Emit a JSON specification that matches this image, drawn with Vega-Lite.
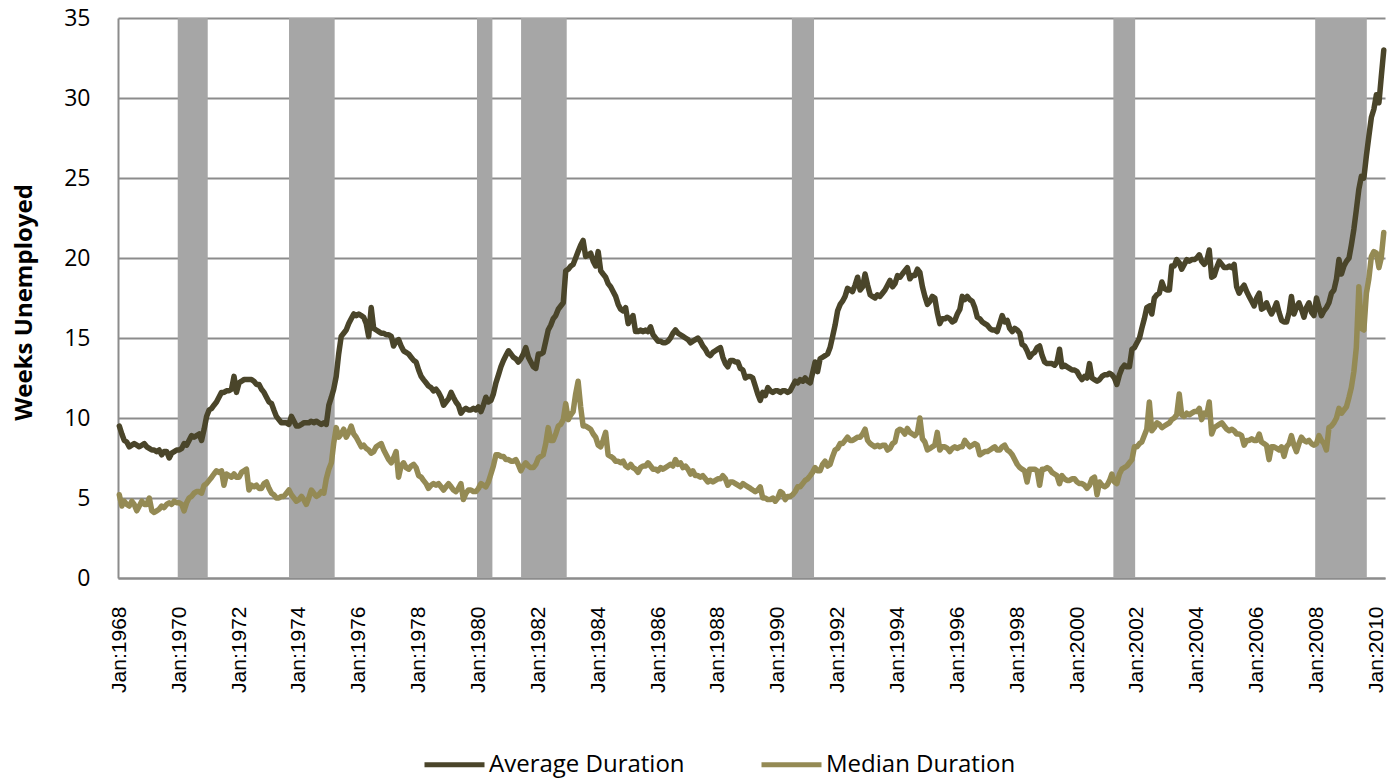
{
"$schema":"https://vega.github.io/schema/vega-lite/v6.json",
"width":1267,"height":560,
"autosize":{"type":"none"},
"padding":{"left":118,"top":18,"right":13,"bottom":202},
"background":"white",
"config":{"view":{"stroke":null}},
"encoding":{"x":{"field":"t","type":"temporal",
 "scale":{"type":"utc","domain":[{"year":1967,"month":12,"date":16,"utc":true},{"year":2010,"month":4,"date":16,"utc":true}]},
 "axis":{"title":null,"tickCount":{"interval":"year","step":2},"labelExpr":"'Jan:' + utcFormat(datum.value,'%Y')","labelAngle":-90,"labelFont":"Liberation Sans","labelFontSize":21,"labelColor":"#000000","labelPadding":28,"labelFlush":false,"labelOverlap":false,"ticks":false,"grid":false,"domainColor":"#8c8c8c","domainWidth":2}}},
"layer":[
{"data":{"values":[
{"t":"1969-12-14","t2":"1970-12-15"},
{"t":"1973-09-02","t2":"1975-03-13"},
{"t":"1979-12-14","t2":"1980-06-19"},
{"t":"1981-06-04","t2":"1982-12-13"},
{"t":"1990-06-22","t2":"1991-03-19"},
{"t":"2001-03-19","t2":"2001-12-10"},
{"t":"2007-12-16","t2":"2009-09-06"}],
"format":{"parse":{"t":"utc:'%Y-%m-%d'","t2":"utc:'%Y-%m-%d'"}}},
"mark":{"type":"rect","color":"#A6A6A6"},
"encoding":{"x2":{"field":"t2"}}},
{"data":{"format":{"parse":{"t":"utc:'%Y-%m'"}},"values":[
{"t":"1968-01","a":9.5,"m":5.2},{"t":"1968-02","a":9.0,"m":4.5},{"t":"1968-03","a":8.6,"m":4.8},{"t":"1968-04","a":8.5,"m":4.6},{"t":"1968-05","a":8.2,"m":4.5},{"t":"1968-06","a":8.3,"m":4.8},{"t":"1968-07","a":8.4,"m":4.6},{"t":"1968-08","a":8.3,"m":4.2},{"t":"1968-09","a":8.2,"m":4.5},{"t":"1968-10","a":8.3,"m":4.8},{"t":"1968-11","a":8.4,"m":4.6},{"t":"1968-12","a":8.2,"m":4.6},
{"t":"1969-01","a":8.1,"m":5.0},{"t":"1969-02","a":8.0,"m":4.2},{"t":"1969-03","a":8.0,"m":4.1},{"t":"1969-04","a":7.9,"m":4.2},{"t":"1969-05","a":8.0,"m":4.3},{"t":"1969-06","a":7.7,"m":4.5},{"t":"1969-07","a":7.9,"m":4.4},{"t":"1969-08","a":7.9,"m":4.6},{"t":"1969-09","a":7.5,"m":4.7},{"t":"1969-10","a":7.8,"m":4.6},{"t":"1969-11","a":7.9,"m":4.8},{"t":"1969-12","a":8.0,"m":4.7},
{"t":"1970-01","a":8.0,"m":4.7},{"t":"1970-02","a":8.1,"m":4.6},{"t":"1970-03","a":8.4,"m":4.2},{"t":"1970-04","a":8.3,"m":4.7},{"t":"1970-05","a":8.6,"m":5.0},{"t":"1970-06","a":8.9,"m":5.1},{"t":"1970-07","a":8.8,"m":5.3},{"t":"1970-08","a":8.9,"m":5.4},{"t":"1970-09","a":9.0,"m":5.4},{"t":"1970-10","a":8.6,"m":5.3},{"t":"1970-11","a":9.3,"m":5.8},{"t":"1970-12","a":10.1,"m":5.9},
{"t":"1971-01","a":10.5,"m":6.1},{"t":"1971-02","a":10.6,"m":6.3},{"t":"1971-03","a":10.8,"m":6.5},{"t":"1971-04","a":11.0,"m":6.7},{"t":"1971-05","a":11.3,"m":6.6},{"t":"1971-06","a":11.6,"m":6.7},{"t":"1971-07","a":11.6,"m":5.8},{"t":"1971-08","a":11.7,"m":6.5},{"t":"1971-09","a":11.7,"m":6.4},{"t":"1971-10","a":11.8,"m":6.3},{"t":"1971-11","a":12.6,"m":6.5},{"t":"1971-12","a":11.6,"m":6.3},
{"t":"1972-01","a":12.2,"m":6.3},{"t":"1972-02","a":12.3,"m":6.6},{"t":"1972-03","a":12.4,"m":6.7},{"t":"1972-04","a":12.4,"m":6.8},{"t":"1972-05","a":12.4,"m":5.5},{"t":"1972-06","a":12.4,"m":5.8},{"t":"1972-07","a":12.3,"m":5.7},{"t":"1972-08","a":12.1,"m":5.8},{"t":"1972-09","a":12.1,"m":5.6},{"t":"1972-10","a":11.8,"m":5.6},{"t":"1972-11","a":11.6,"m":5.9},{"t":"1972-12","a":11.3,"m":6.0},
{"t":"1973-01","a":11.0,"m":5.6},{"t":"1973-02","a":10.9,"m":5.3},{"t":"1973-03","a":10.5,"m":5.2},{"t":"1973-04","a":10.1,"m":5.0},{"t":"1973-05","a":9.9,"m":5.0},{"t":"1973-06","a":9.7,"m":5.1},{"t":"1973-07","a":9.7,"m":5.1},{"t":"1973-08","a":9.7,"m":5.3},{"t":"1973-09","a":9.6,"m":5.5},{"t":"1973-10","a":10.1,"m":5.2},{"t":"1973-11","a":9.8,"m":5.0},{"t":"1973-12","a":9.5,"m":4.8},
{"t":"1974-01","a":9.5,"m":4.9},{"t":"1974-02","a":9.6,"m":5.1},{"t":"1974-03","a":9.7,"m":4.9},{"t":"1974-04","a":9.7,"m":4.6},{"t":"1974-05","a":9.7,"m":5.0},{"t":"1974-06","a":9.8,"m":5.5},{"t":"1974-07","a":9.7,"m":5.3},{"t":"1974-08","a":9.8,"m":5.1},{"t":"1974-09","a":9.7,"m":5.2},{"t":"1974-10","a":9.6,"m":5.4},{"t":"1974-11","a":9.7,"m":5.3},{"t":"1974-12","a":9.6,"m":6.2},
{"t":"1975-01","a":10.8,"m":6.8},{"t":"1975-02","a":11.3,"m":7.2},{"t":"1975-03","a":11.8,"m":8.4},{"t":"1975-04","a":12.6,"m":9.4},{"t":"1975-05","a":14.0,"m":8.8},{"t":"1975-06","a":15.1,"m":9.0},{"t":"1975-07","a":15.3,"m":9.3},{"t":"1975-08","a":15.5,"m":8.8},{"t":"1975-09","a":15.9,"m":9.1},{"t":"1975-10","a":16.2,"m":9.5},{"t":"1975-11","a":16.5,"m":9.0},{"t":"1975-12","a":16.4,"m":8.8},
{"t":"1976-01","a":16.5,"m":8.5},{"t":"1976-02","a":16.4,"m":8.2},{"t":"1976-03","a":16.3,"m":8.3},{"t":"1976-04","a":15.9,"m":8.1},{"t":"1976-05","a":15.1,"m":8.0},{"t":"1976-06","a":16.9,"m":7.8},{"t":"1976-07","a":15.6,"m":7.9},{"t":"1976-08","a":15.5,"m":8.2},{"t":"1976-09","a":15.4,"m":8.3},{"t":"1976-10","a":15.3,"m":8.4},{"t":"1976-11","a":15.3,"m":8.0},{"t":"1976-12","a":15.2,"m":7.7},
{"t":"1977-01","a":15.2,"m":7.4},{"t":"1977-02","a":15.1,"m":7.2},{"t":"1977-03","a":14.5,"m":7.5},{"t":"1977-04","a":14.8,"m":7.9},{"t":"1977-05","a":14.9,"m":6.3},{"t":"1977-06","a":14.5,"m":7.0},{"t":"1977-07","a":14.2,"m":7.2},{"t":"1977-08","a":14.1,"m":6.9},{"t":"1977-09","a":14.0,"m":6.8},{"t":"1977-10","a":13.8,"m":7.0},{"t":"1977-11","a":13.6,"m":7.1},{"t":"1977-12","a":13.5,"m":6.9},
{"t":"1978-01","a":13.0,"m":6.4},{"t":"1978-02","a":12.6,"m":6.3},{"t":"1978-03","a":12.4,"m":6.1},{"t":"1978-04","a":12.2,"m":5.9},{"t":"1978-05","a":12.0,"m":5.6},{"t":"1978-06","a":11.9,"m":5.8},{"t":"1978-07","a":11.7,"m":5.9},{"t":"1978-08","a":11.8,"m":5.8},{"t":"1978-09","a":11.6,"m":5.9},{"t":"1978-10","a":11.3,"m":5.7},{"t":"1978-11","a":10.8,"m":5.5},{"t":"1978-12","a":11.0,"m":5.7},
{"t":"1979-01","a":11.2,"m":5.9},{"t":"1979-02","a":11.6,"m":5.7},{"t":"1979-03","a":11.3,"m":5.5},{"t":"1979-04","a":11.0,"m":5.4},{"t":"1979-05","a":10.8,"m":5.6},{"t":"1979-06","a":10.3,"m":5.9},{"t":"1979-07","a":10.5,"m":4.9},{"t":"1979-08","a":10.6,"m":5.3},{"t":"1979-09","a":10.5,"m":5.5},{"t":"1979-10","a":10.5,"m":5.5},{"t":"1979-11","a":10.6,"m":5.4},{"t":"1979-12","a":10.5,"m":5.4},
{"t":"1980-01","a":10.7,"m":5.6},{"t":"1980-02","a":10.4,"m":5.9},{"t":"1980-03","a":10.8,"m":5.8},{"t":"1980-04","a":11.3,"m":5.7},{"t":"1980-05","a":11.0,"m":6.0},{"t":"1980-06","a":11.1,"m":6.5},{"t":"1980-07","a":11.5,"m":7.0},{"t":"1980-08","a":12.2,"m":7.7},{"t":"1980-09","a":12.7,"m":7.7},{"t":"1980-10","a":13.2,"m":7.6},{"t":"1980-11","a":13.6,"m":7.6},{"t":"1980-12","a":13.9,"m":7.4},
{"t":"1981-01","a":14.2,"m":7.4},{"t":"1981-02","a":14.0,"m":7.3},{"t":"1981-03","a":13.8,"m":7.3},{"t":"1981-04","a":13.7,"m":7.4},{"t":"1981-05","a":13.5,"m":7.1},{"t":"1981-06","a":13.7,"m":6.7},{"t":"1981-07","a":14.0,"m":7.0},{"t":"1981-08","a":14.4,"m":7.2},{"t":"1981-09","a":13.8,"m":7.0},{"t":"1981-10","a":13.5,"m":6.9},{"t":"1981-11","a":13.2,"m":6.9},{"t":"1981-12","a":13.1,"m":7.1},
{"t":"1982-01","a":14.0,"m":7.5},{"t":"1982-02","a":14.0,"m":7.6},{"t":"1982-03","a":14.1,"m":7.7},{"t":"1982-04","a":14.8,"m":8.4},{"t":"1982-05","a":15.5,"m":9.4},{"t":"1982-06","a":15.8,"m":8.6},{"t":"1982-07","a":16.2,"m":8.6},{"t":"1982-08","a":16.4,"m":9.0},{"t":"1982-09","a":16.8,"m":9.5},{"t":"1982-10","a":17.0,"m":9.6},{"t":"1982-11","a":17.2,"m":9.9},{"t":"1982-12","a":19.2,"m":10.9},
{"t":"1983-01","a":19.3,"m":9.9},{"t":"1983-02","a":19.5,"m":10.2},{"t":"1983-03","a":19.6,"m":10.4},{"t":"1983-04","a":20.0,"m":11.5},{"t":"1983-05","a":20.4,"m":12.3},{"t":"1983-06","a":20.8,"m":10.7},{"t":"1983-07","a":21.1,"m":9.5},{"t":"1983-08","a":20.1,"m":9.5},{"t":"1983-09","a":20.2,"m":9.4},{"t":"1983-10","a":20.3,"m":9.3},{"t":"1983-11","a":19.8,"m":9.0},{"t":"1983-12","a":19.5,"m":8.8},
{"t":"1984-01","a":20.4,"m":8.3},{"t":"1984-02","a":19.2,"m":8.2},{"t":"1984-03","a":19.0,"m":8.6},{"t":"1984-04","a":18.8,"m":9.1},{"t":"1984-05","a":18.4,"m":7.7},{"t":"1984-06","a":18.2,"m":7.6},{"t":"1984-07","a":17.9,"m":7.5},{"t":"1984-08","a":17.6,"m":7.3},{"t":"1984-09","a":17.1,"m":7.3},{"t":"1984-10","a":16.8,"m":7.2},{"t":"1984-11","a":16.7,"m":7.3},{"t":"1984-12","a":16.9,"m":7.0},
{"t":"1985-01","a":15.9,"m":6.9},{"t":"1985-02","a":16.2,"m":7.1},{"t":"1985-03","a":16.4,"m":6.9},{"t":"1985-04","a":15.4,"m":6.8},{"t":"1985-05","a":15.4,"m":6.6},{"t":"1985-06","a":15.5,"m":6.9},{"t":"1985-07","a":15.4,"m":7.0},{"t":"1985-08","a":15.5,"m":7.0},{"t":"1985-09","a":15.4,"m":7.2},{"t":"1985-10","a":15.7,"m":7.0},{"t":"1985-11","a":15.2,"m":6.8},{"t":"1985-12","a":15.0,"m":6.8},
{"t":"1986-01","a":14.8,"m":6.7},{"t":"1986-02","a":14.8,"m":6.9},{"t":"1986-03","a":14.7,"m":6.8},{"t":"1986-04","a":14.7,"m":6.9},{"t":"1986-05","a":14.8,"m":7.0},{"t":"1986-06","a":15.0,"m":7.1},{"t":"1986-07","a":15.3,"m":7.0},{"t":"1986-08","a":15.5,"m":7.4},{"t":"1986-09","a":15.3,"m":7.1},{"t":"1986-10","a":15.2,"m":7.2},{"t":"1986-11","a":15.1,"m":6.9},{"t":"1986-12","a":15.0,"m":7.0},
{"t":"1987-01","a":14.9,"m":6.8},{"t":"1987-02","a":14.7,"m":6.5},{"t":"1987-03","a":14.8,"m":6.7},{"t":"1987-04","a":14.9,"m":6.4},{"t":"1987-05","a":15.0,"m":6.4},{"t":"1987-06","a":14.8,"m":6.3},{"t":"1987-07","a":14.5,"m":6.4},{"t":"1987-08","a":14.3,"m":6.2},{"t":"1987-09","a":14.0,"m":6.0},{"t":"1987-10","a":13.9,"m":6.1},{"t":"1987-11","a":14.1,"m":6.0},{"t":"1987-12","a":14.2,"m":6.1},
{"t":"1988-01","a":14.3,"m":6.2},{"t":"1988-02","a":14.4,"m":6.2},{"t":"1988-03","a":13.8,"m":6.4},{"t":"1988-04","a":13.4,"m":6.2},{"t":"1988-05","a":13.2,"m":5.8},{"t":"1988-06","a":13.6,"m":6.0},{"t":"1988-07","a":13.6,"m":6.0},{"t":"1988-08","a":13.5,"m":5.9},{"t":"1988-09","a":13.5,"m":5.8},{"t":"1988-10","a":13.1,"m":5.7},{"t":"1988-11","a":13.0,"m":5.9},{"t":"1988-12","a":12.5,"m":5.8},
{"t":"1989-01","a":12.6,"m":5.7},{"t":"1989-02","a":12.6,"m":5.6},{"t":"1989-03","a":12.5,"m":5.5},{"t":"1989-04","a":12.0,"m":5.4},{"t":"1989-05","a":11.5,"m":5.5},{"t":"1989-06","a":11.1,"m":5.7},{"t":"1989-07","a":11.6,"m":5.0},{"t":"1989-08","a":11.4,"m":5.0},{"t":"1989-09","a":11.9,"m":4.9},{"t":"1989-10","a":11.7,"m":4.9},{"t":"1989-11","a":11.6,"m":5.0},{"t":"1989-12","a":11.7,"m":4.8},
{"t":"1990-01","a":11.7,"m":5.0},{"t":"1990-02","a":11.6,"m":5.4},{"t":"1990-03","a":11.7,"m":5.3},{"t":"1990-04","a":11.7,"m":4.9},{"t":"1990-05","a":11.6,"m":5.1},{"t":"1990-06","a":11.7,"m":5.1},{"t":"1990-07","a":12.0,"m":5.2},{"t":"1990-08","a":12.3,"m":5.4},{"t":"1990-09","a":12.2,"m":5.7},{"t":"1990-10","a":12.4,"m":5.7},{"t":"1990-11","a":12.3,"m":5.9},{"t":"1990-12","a":12.5,"m":6.1},
{"t":"1991-01","a":12.3,"m":6.2},{"t":"1991-02","a":12.2,"m":6.4},{"t":"1991-03","a":12.8,"m":6.6},{"t":"1991-04","a":13.5,"m":6.9},{"t":"1991-05","a":12.9,"m":6.7},{"t":"1991-06","a":13.7,"m":6.7},{"t":"1991-07","a":13.8,"m":7.1},{"t":"1991-08","a":13.9,"m":7.3},{"t":"1991-09","a":14.0,"m":7.0},{"t":"1991-10","a":14.4,"m":7.1},{"t":"1991-11","a":15.1,"m":7.6},{"t":"1991-12","a":15.8,"m":8.0},
{"t":"1992-01","a":16.7,"m":8.1},{"t":"1992-02","a":17.1,"m":8.4},{"t":"1992-03","a":17.3,"m":8.4},{"t":"1992-04","a":17.6,"m":8.6},{"t":"1992-05","a":18.1,"m":8.8},{"t":"1992-06","a":18.0,"m":8.6},{"t":"1992-07","a":17.9,"m":8.6},{"t":"1992-08","a":18.3,"m":8.7},{"t":"1992-09","a":18.8,"m":8.8},{"t":"1992-10","a":18.0,"m":8.8},{"t":"1992-11","a":18.2,"m":9.0},{"t":"1992-12","a":19.0,"m":9.3},
{"t":"1993-01","a":18.3,"m":8.6},{"t":"1993-02","a":17.7,"m":8.4},{"t":"1993-03","a":17.6,"m":8.3},{"t":"1993-04","a":17.5,"m":8.2},{"t":"1993-05","a":17.7,"m":8.3},{"t":"1993-06","a":17.6,"m":8.2},{"t":"1993-07","a":17.8,"m":8.3},{"t":"1993-08","a":18.0,"m":8.3},{"t":"1993-09","a":18.3,"m":8.0},{"t":"1993-10","a":18.6,"m":8.1},{"t":"1993-11","a":18.2,"m":8.4},{"t":"1993-12","a":18.4,"m":8.5},
{"t":"1994-01","a":18.9,"m":9.2},{"t":"1994-02","a":18.8,"m":9.3},{"t":"1994-03","a":19.0,"m":9.2},{"t":"1994-04","a":19.2,"m":9.0},{"t":"1994-05","a":19.4,"m":9.35},{"t":"1994-06","a":18.7,"m":9.1},{"t":"1994-07","a":18.9,"m":9.0},{"t":"1994-08","a":18.9,"m":8.9},{"t":"1994-09","a":19.3,"m":9.1},{"t":"1994-10","a":19.1,"m":10.0},{"t":"1994-11","a":18.2,"m":8.7},{"t":"1994-12","a":17.6,"m":8.5},
{"t":"1995-01","a":17.1,"m":8.0},{"t":"1995-02","a":17.3,"m":8.1},{"t":"1995-03","a":17.6,"m":8.2},{"t":"1995-04","a":17.5,"m":8.3},{"t":"1995-05","a":16.6,"m":9.1},{"t":"1995-06","a":15.9,"m":8.0},{"t":"1995-07","a":16.2,"m":8.2},{"t":"1995-08","a":16.2,"m":8.2},{"t":"1995-09","a":16.3,"m":8.1},{"t":"1995-10","a":16.2,"m":7.9},{"t":"1995-11","a":16.0,"m":8.1},{"t":"1995-12","a":16.1,"m":8.2},
{"t":"1996-01","a":16.5,"m":8.1},{"t":"1996-02","a":16.8,"m":8.2},{"t":"1996-03","a":17.6,"m":8.2},{"t":"1996-04","a":17.4,"m":8.6},{"t":"1996-05","a":17.6,"m":8.4},{"t":"1996-06","a":17.4,"m":8.2},{"t":"1996-07","a":17.3,"m":8.3},{"t":"1996-08","a":16.9,"m":8.4},{"t":"1996-09","a":16.3,"m":8.3},{"t":"1996-10","a":16.2,"m":7.7},{"t":"1996-11","a":16.0,"m":7.8},{"t":"1996-12","a":15.9,"m":7.9},
{"t":"1997-01","a":15.8,"m":7.9},{"t":"1997-02","a":15.6,"m":8.0},{"t":"1997-03","a":15.5,"m":8.1},{"t":"1997-04","a":15.5,"m":8.2},{"t":"1997-05","a":15.4,"m":8.0},{"t":"1997-06","a":15.9,"m":8.0},{"t":"1997-07","a":16.4,"m":8.2},{"t":"1997-08","a":16.0,"m":8.3},{"t":"1997-09","a":16.1,"m":8.0},{"t":"1997-10","a":15.6,"m":7.9},{"t":"1997-11","a":15.4,"m":7.7},{"t":"1997-12","a":15.6,"m":7.4},
{"t":"1998-01","a":15.5,"m":7.1},{"t":"1998-02","a":15.3,"m":6.9},{"t":"1998-03","a":14.6,"m":6.8},{"t":"1998-04","a":14.5,"m":6.7},{"t":"1998-05","a":14.2,"m":6.0},{"t":"1998-06","a":13.8,"m":6.8},{"t":"1998-07","a":14.0,"m":6.8},{"t":"1998-08","a":14.1,"m":6.8},{"t":"1998-09","a":14.4,"m":6.7},{"t":"1998-10","a":14.5,"m":5.8},{"t":"1998-11","a":13.9,"m":6.8},{"t":"1998-12","a":13.5,"m":6.8},
{"t":"1999-01","a":13.4,"m":6.9},{"t":"1999-02","a":13.4,"m":6.8},{"t":"1999-03","a":13.4,"m":6.6},{"t":"1999-04","a":13.3,"m":6.5},{"t":"1999-05","a":13.5,"m":6.4},{"t":"1999-06","a":14.3,"m":5.9},{"t":"1999-07","a":13.2,"m":6.4},{"t":"1999-08","a":13.3,"m":6.2},{"t":"1999-09","a":13.2,"m":6.1},{"t":"1999-10","a":13.1,"m":6.1},{"t":"1999-11","a":13.0,"m":6.2},{"t":"1999-12","a":13.0,"m":6.2},
{"t":"2000-01","a":12.9,"m":6.0},{"t":"2000-02","a":12.6,"m":5.9},{"t":"2000-03","a":12.4,"m":5.9},{"t":"2000-04","a":12.6,"m":5.8},{"t":"2000-05","a":12.5,"m":5.6},{"t":"2000-06","a":13.4,"m":5.8},{"t":"2000-07","a":12.5,"m":6.2},{"t":"2000-08","a":12.4,"m":6.3},{"t":"2000-09","a":12.3,"m":5.2},{"t":"2000-10","a":12.4,"m":6.0},{"t":"2000-11","a":12.6,"m":5.8},{"t":"2000-12","a":12.7,"m":5.7},
{"t":"2001-01","a":12.7,"m":5.8},{"t":"2001-02","a":12.8,"m":6.1},{"t":"2001-03","a":12.7,"m":6.5},{"t":"2001-04","a":12.5,"m":6.0},{"t":"2001-05","a":12.1,"m":5.9},{"t":"2001-06","a":12.7,"m":6.5},{"t":"2001-07","a":13.1,"m":6.8},{"t":"2001-08","a":13.3,"m":6.9},{"t":"2001-09","a":13.2,"m":7.0},{"t":"2001-10","a":13.2,"m":7.2},{"t":"2001-11","a":14.3,"m":7.4},{"t":"2001-12","a":14.4,"m":8.2},
{"t":"2002-01","a":14.7,"m":8.2},{"t":"2002-02","a":15.0,"m":8.4},{"t":"2002-03","a":15.6,"m":8.5},{"t":"2002-04","a":16.2,"m":8.9},{"t":"2002-05","a":16.9,"m":9.3},{"t":"2002-06","a":17.0,"m":11.0},{"t":"2002-07","a":16.5,"m":9.2},{"t":"2002-08","a":17.5,"m":9.4},{"t":"2002-09","a":17.7,"m":9.7},{"t":"2002-10","a":17.8,"m":9.6},{"t":"2002-11","a":18.5,"m":9.4},{"t":"2002-12","a":18.1,"m":9.5},
{"t":"2003-01","a":18.0,"m":9.6},{"t":"2003-02","a":18.0,"m":9.7},{"t":"2003-03","a":19.5,"m":9.9},{"t":"2003-04","a":19.5,"m":10.0},{"t":"2003-05","a":19.9,"m":10.2},{"t":"2003-06","a":19.7,"m":11.5},{"t":"2003-07","a":19.3,"m":10.2},{"t":"2003-08","a":19.6,"m":10.1},{"t":"2003-09","a":19.9,"m":10.3},{"t":"2003-10","a":19.8,"m":10.2},{"t":"2003-11","a":19.9,"m":10.3},{"t":"2003-12","a":19.9,"m":10.4},
{"t":"2004-01","a":20.0,"m":10.4},{"t":"2004-02","a":20.2,"m":10.6},{"t":"2004-03","a":19.8,"m":9.9},{"t":"2004-04","a":19.6,"m":10.3},{"t":"2004-05","a":19.8,"m":10.2},{"t":"2004-06","a":20.5,"m":11.0},{"t":"2004-07","a":18.8,"m":9.0},{"t":"2004-08","a":18.9,"m":9.4},{"t":"2004-09","a":19.4,"m":9.5},{"t":"2004-10","a":19.8,"m":9.6},{"t":"2004-11","a":19.6,"m":9.7},{"t":"2004-12","a":19.4,"m":9.5},
{"t":"2005-01","a":19.4,"m":9.3},{"t":"2005-02","a":19.5,"m":9.2},{"t":"2005-03","a":19.4,"m":9.3},{"t":"2005-04","a":19.6,"m":9.2},{"t":"2005-05","a":18.2,"m":9.0},{"t":"2005-06","a":17.8,"m":9.0},{"t":"2005-07","a":18.1,"m":8.9},{"t":"2005-08","a":18.3,"m":8.3},{"t":"2005-09","a":17.9,"m":8.6},{"t":"2005-10","a":17.6,"m":8.6},{"t":"2005-11","a":17.3,"m":8.7},{"t":"2005-12","a":17.0,"m":8.6},
{"t":"2006-01","a":17.5,"m":8.6},{"t":"2006-02","a":17.8,"m":9.0},{"t":"2006-03","a":16.8,"m":8.5},{"t":"2006-04","a":16.9,"m":8.4},{"t":"2006-05","a":17.2,"m":8.3},{"t":"2006-06","a":16.8,"m":7.4},{"t":"2006-07","a":16.5,"m":8.2},{"t":"2006-08","a":16.8,"m":8.2},{"t":"2006-09","a":17.2,"m":8.1},{"t":"2006-10","a":16.6,"m":8.0},{"t":"2006-11","a":16.1,"m":8.2},{"t":"2006-12","a":16.0,"m":7.6},
{"t":"2007-01","a":16.0,"m":8.2},{"t":"2007-02","a":16.6,"m":8.4},{"t":"2007-03","a":17.6,"m":8.9},{"t":"2007-04","a":16.5,"m":8.3},{"t":"2007-05","a":16.9,"m":7.9},{"t":"2007-06","a":17.2,"m":8.4},{"t":"2007-07","a":16.8,"m":8.8},{"t":"2007-08","a":16.3,"m":8.6},{"t":"2007-09","a":16.9,"m":8.5},{"t":"2007-10","a":17.2,"m":8.6},{"t":"2007-11","a":16.6,"m":8.4},{"t":"2007-12","a":16.4,"m":8.3},
{"t":"2008-01","a":17.5,"m":8.4},{"t":"2008-02","a":16.9,"m":8.9},{"t":"2008-03","a":16.4,"m":8.6},{"t":"2008-04","a":16.7,"m":8.4},{"t":"2008-05","a":16.9,"m":8.0},{"t":"2008-06","a":17.2,"m":9.4},{"t":"2008-07","a":17.8,"m":9.5},{"t":"2008-08","a":18.0,"m":9.7},{"t":"2008-09","a":18.7,"m":10.0},{"t":"2008-10","a":19.9,"m":10.6},{"t":"2008-11","a":19.0,"m":10.3},{"t":"2008-12","a":19.5,"m":10.5},
{"t":"2009-01","a":19.8,"m":10.7},{"t":"2009-02","a":20.0,"m":11.3},{"t":"2009-03","a":20.8,"m":11.9},{"t":"2009-04","a":21.8,"m":12.9},{"t":"2009-05","a":23.0,"m":14.4},{"t":"2009-06","a":24.3,"m":18.2},{"t":"2009-07","a":25.1,"m":15.6},{"t":"2009-08","a":25.0,"m":15.5},{"t":"2009-09","a":26.4,"m":17.8},{"t":"2009-10","a":27.6,"m":18.7},{"t":"2009-11","a":28.8,"m":20.1},{"t":"2009-12","a":29.3,"m":20.4},
{"t":"2010-01","a":30.2,"m":20.3},{"t":"2010-02","a":29.7,"m":19.4},{"t":"2010-03","a":31.3,"m":20.0},{"t":"2010-04","a":33.0,"m":21.6}
]},
"transform":[{"fold":["a","m"],"as":["k","v"]}],
"mark":{"type":"line","strokeWidth":5.5,"strokeJoin":"round","strokeCap":"round"},
"encoding":{
 "y":{"field":"v","type":"quantitative","scale":{"domain":[0,35],"nice":false,"zero":true},
  "axis":{"title":"Weeks Unemployed","values":[0,5,10,15,20,25,30,35],"grid":true,"gridColor":"#8c8c8c","gridWidth":2,"domainColor":"#8c8c8c","domainWidth":2,"ticks":false,"labelPadding":28,"labelFont":"Open Sans","labelFontSize":23,"labelColor":"#000000","titleFont":"Open Sans","titleFontSize":24,"titleFontWeight":"bold","titleColor":"#000000","titleAngle":-90,"titleAlign":"center","titleBaseline":"middle","titleX":-94,"titleY":284}},
 "color":{"field":"k","type":"nominal","scale":{"domain":["a","m"],"range":["#4A452A","#948A54"]},
  "legend":{"orient":"none","legendX":304,"legendY":714,"direction":"horizontal","title":null,"symbolType":"stroke","symbolSize":3600,"symbolStrokeWidth":5,"labelFont":"Open Sans","labelFontSize":24,"labelColor":"#000000","labelOffset":2,"columnPadding":66,"labelLimit":400,"labelExpr":"datum.label == 'a' ? 'Average Duration' : 'Median Duration'"}}
}}
]
}
